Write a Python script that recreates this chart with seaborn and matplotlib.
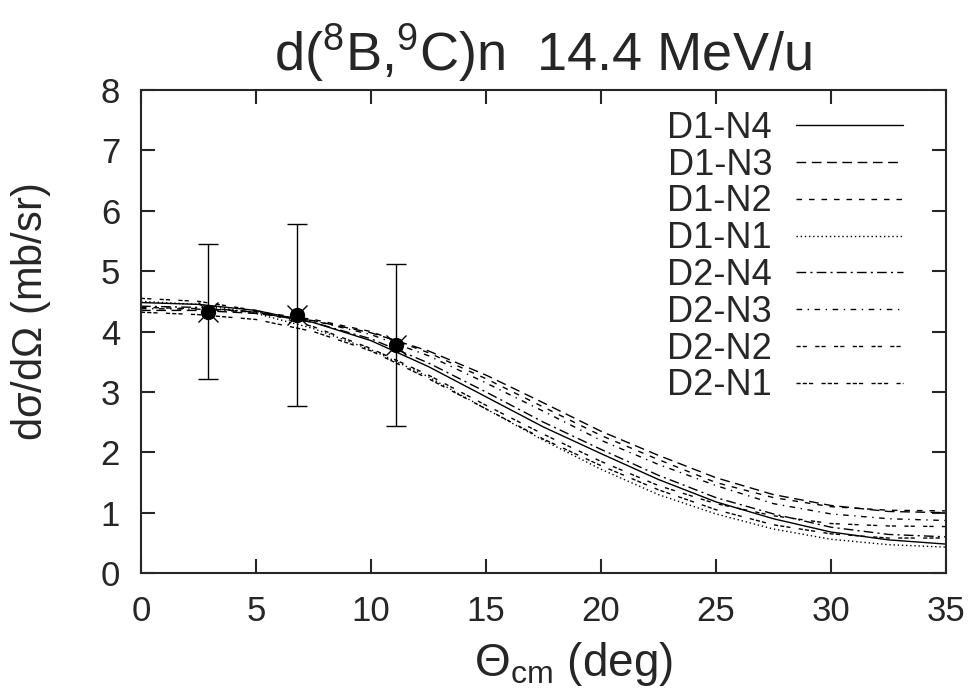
import numpy as np
import pandas as pd
import matplotlib
matplotlib.use("Agg")
import matplotlib.pyplot as plt
import seaborn as sns

# theta grid (deg) and curves
theta = [0, 2.5, 5, 7.5, 10, 12.5, 15, 17.5, 20, 22.5, 25, 27.5, 30, 32.5, 35]

d1_n4 = [4.48, 4.45, 4.35, 4.15, 3.85, 3.42, 2.92, 2.42, 1.98, 1.55, 1.18, 0.90, 0.68, 0.55, 0.48]
d1_n3 = [4.35, 4.35, 4.30, 4.18, 3.98, 3.68, 3.28, 2.82, 2.35, 1.95, 1.58, 1.30, 1.12, 1.02, 1.00]
d1_n2 = [4.40, 4.38, 4.33, 4.20, 4.00, 3.65, 3.22, 2.75, 2.28, 1.88, 1.50, 1.25, 1.10, 1.04, 1.03]
d1_n1 = [4.50, 4.45, 4.30, 4.05, 3.70, 3.25, 2.72, 2.20, 1.72, 1.30, 0.98, 0.73, 0.56, 0.47, 0.43]
d2_n4 = [4.42, 4.40, 4.32, 4.15, 3.88, 3.48, 3.00, 2.50, 2.05, 1.62, 1.25, 0.98, 0.76, 0.64, 0.60]
d2_n3 = [4.38, 4.37, 4.32, 4.18, 3.95, 3.60, 3.15, 2.68, 2.20, 1.80, 1.45, 1.15, 0.98, 0.90, 0.87]
d2_n2 = [4.55, 4.50, 4.35, 4.08, 3.72, 3.28, 2.78, 2.30, 1.85, 1.45, 1.15, 0.95, 0.82, 0.78, 0.77]
d2_n1 = [4.32, 4.28, 4.20, 4.00, 3.68, 3.22, 2.72, 2.22, 1.78, 1.38, 1.05, 0.80, 0.65, 0.58, 0.58]

labels = ["D1-N4", "D1-N3", "D1-N2", "D1-N1", "D2-N4", "D2-N3", "D2-N2", "D2-N1"]
curves = [d1_n4, d1_n3, d1_n2, d1_n1, d2_n4, d2_n3, d2_n2, d2_n1]

# experimental points
exp_theta = [2.9, 6.8, 11.1]
exp_xs = [4.33, 4.27, 3.77]
exp_lo = [3.22, 2.76, 2.43]
exp_hi = [5.45, 5.78, 5.12]

styles = [
    "-",
    (0, (7, 4)),
    (0, (4, 5)),
    (0, (1, 2)),
    (0, (7, 3, 1.5, 3)),
    (0, (4, 4, 1, 4)),
    (0, (3, 1.5, 3, 6)),
    (0, (3, 1.5, 3, 1.5, 3, 6)),
]

sns.set_style("ticks")
plt.rcParams["font.family"] = ["Liberation Sans", "DejaVu Sans"]
plt.rcParams["mathtext.fontset"] = "custom"
plt.rcParams["mathtext.rm"] = "Liberation Sans"
plt.rcParams["mathtext.it"] = "Liberation Sans:italic"

fig = plt.figure(figsize=(9.72, 6.98), dpi=100)
ax = fig.add_axes([0.145, 0.179, 0.828, 0.692])

for lab, ys, ls in zip(labels, curves, styles):
    df = pd.DataFrame({"theta": theta, "xs": ys})
    sns.lineplot(data=df, x="theta", y="xs", ax=ax, color="black",
                 linewidth=1.0, linestyle=ls, label=lab)

yerr = [np.array(exp_xs) - np.array(exp_lo), np.array(exp_hi) - np.array(exp_xs)]
ax.errorbar(exp_theta, exp_xs, yerr=yerr, fmt="none", ecolor="black",
            elinewidth=1.0, capsize=7, capthick=1.0)
ax.plot(exp_theta, exp_xs, "x", color="black", markersize=14, mew=1.0)
ax.plot(exp_theta, exp_xs, "o", color="black", markersize=10)

ax.set_xlim(0, 35)
ax.set_ylim(0, 8)
ax.set_xticks(range(0, 36, 5))
ax.set_yticks(range(0, 9))
ax.tick_params(direction="in", length=10, width=1.5, labelsize=25,
               top=True, right=True)
ax.tick_params(axis="x", pad=16)
ax.tick_params(axis="y", pad=15)
for sp in ax.spines.values():
    sp.set_linewidth(1.5)

ax.set_xlabel(r"$\mathregular{\Theta_{cm}}$ (deg)", fontsize=33)
ax.set_ylabel(r"d$\mathregular{\sigma}$/d$\mathregular{\Omega}$ (mb/sr)", fontsize=30)
ax.xaxis.set_label_coords(0.537, -0.138)
ax.yaxis.set_label_coords(-0.109, 0.54)
ax.set_title(r"d($\mathregular{^8}$B,$\mathregular{^9}$C)n  14.4 MeV/u", fontsize=39, pad=14)

ax.legend(loc="upper right", frameon=False, markerfirst=False, fontsize=26,
          handlelength=2.95, handletextpad=0.67, labelspacing=0.05,
          borderpad=0, borderaxespad=0, bbox_to_anchor=(0.9466, 0.957))

fig.savefig("out.png", dpi=100)
